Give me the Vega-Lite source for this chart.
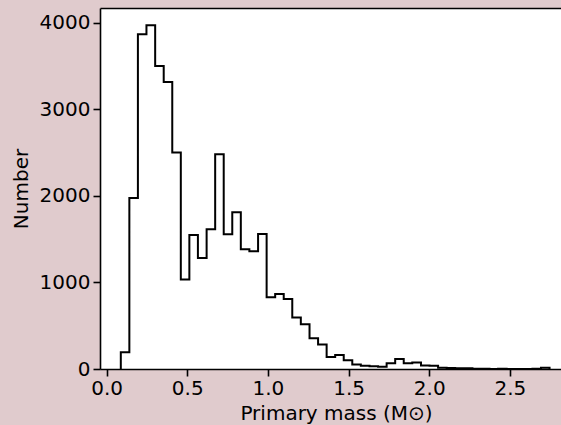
{
  "$schema": "https://vega.github.io/schema/vega-lite/v6.json",
  "autosize": {"type": "none"},
  "width": 461,
  "height": 361,
  "padding": {"left": 100, "top": 8, "right": 0, "bottom": 56},
  "background": "#e0cbcd",
  "config": {
    "view": {"fill": "white", "stroke": null},
    "font": "DejaVu Sans",
    "axis": {
      "grid": false,
      "labelFont": "DejaVu Sans",
      "titleFont": "DejaVu Sans",
      "labelFontSize": 20,
      "titleFontSize": 20,
      "titleFontWeight": "normal",
      "labelColor": "black",
      "titleColor": "black",
      "domainColor": "black",
      "domainWidth": 1.6,
      "tickColor": "black",
      "tickWidth": 1.6,
      "tickSize": 7
    }
  },
  "data": {
    "values": [
      {"m": 0.088, "n": 0, "k": 0},
      {"m": 0.088, "n": 193, "k": 1},
      {"m": 0.141, "n": 1977, "k": 2},
      {"m": 0.194, "n": 3869, "k": 3},
      {"m": 0.247, "n": 3973, "k": 4},
      {"m": 0.301, "n": 3503, "k": 5},
      {"m": 0.354, "n": 3318, "k": 6},
      {"m": 0.407, "n": 2501, "k": 7},
      {"m": 0.460, "n": 1033, "k": 8},
      {"m": 0.513, "n": 1549, "k": 9},
      {"m": 0.566, "n": 1283, "k": 10},
      {"m": 0.620, "n": 1615, "k": 11},
      {"m": 0.673, "n": 2482, "k": 12},
      {"m": 0.726, "n": 1557, "k": 13},
      {"m": 0.779, "n": 1812, "k": 14},
      {"m": 0.832, "n": 1384, "k": 15},
      {"m": 0.885, "n": 1361, "k": 16},
      {"m": 0.939, "n": 1561, "k": 17},
      {"m": 0.992, "n": 829, "k": 18},
      {"m": 1.045, "n": 867, "k": 19},
      {"m": 1.098, "n": 809, "k": 20},
      {"m": 1.151, "n": 594, "k": 21},
      {"m": 1.204, "n": 517, "k": 22},
      {"m": 1.258, "n": 355, "k": 23},
      {"m": 1.311, "n": 282, "k": 24},
      {"m": 1.364, "n": 139, "k": 25},
      {"m": 1.417, "n": 162, "k": 26},
      {"m": 1.470, "n": 101, "k": 27},
      {"m": 1.523, "n": 51, "k": 28},
      {"m": 1.576, "n": 37, "k": 29},
      {"m": 1.630, "n": 33, "k": 30},
      {"m": 1.683, "n": 27, "k": 31},
      {"m": 1.736, "n": 66, "k": 32},
      {"m": 1.789, "n": 116, "k": 33},
      {"m": 1.842, "n": 66, "k": 34},
      {"m": 1.895, "n": 74, "k": 35},
      {"m": 1.949, "n": 40, "k": 36},
      {"m": 2.002, "n": 38, "k": 37},
      {"m": 2.055, "n": 15, "k": 38},
      {"m": 2.108, "n": 12, "k": 39},
      {"m": 2.161, "n": 10, "k": 40},
      {"m": 2.214, "n": 8, "k": 41},
      {"m": 2.268, "n": 3, "k": 42},
      {"m": 2.321, "n": 2, "k": 43},
      {"m": 2.374, "n": 1, "k": 44},
      {"m": 2.427, "n": 2, "k": 45},
      {"m": 2.480, "n": 1, "k": 46},
      {"m": 2.533, "n": 0, "k": 47},
      {"m": 2.587, "n": 1, "k": 48},
      {"m": 2.640, "n": 2, "k": 49},
      {"m": 2.693, "n": 15, "k": 50},
      {"m": 2.746, "n": 0, "k": 51}
    ]
  },
  "layer": [
    {
      "mark": {"type": "line", "interpolate": "step-after", "color": "black", "strokeWidth": 2, "clip": true},
      "encoding": {
        "x": {
          "field": "m", "type": "quantitative",
          "scale": {"domain": [-0.041, 2.817], "nice": false, "zero": false},
          "axis": {"orient": "bottom", "values": [0, 0.5, 1, 1.5, 2, 2.5], "format": ".1f", "title": "Primary mass (M⊙)", "labelPadding": 2, "titlePadding": 5, "titleX": 236}
        },
        "y": {
          "field": "n", "type": "quantitative",
          "scale": {"domain": [0, 4172], "nice": false},
          "axis": {"values": [0, 1000, 2000, 3000, 4000], "format": "d", "title": "Number", "labelPadding": 3, "titlePadding": 8}
        },
        "order": {"field": "k", "type": "quantitative"}
      }
    },
    {
      "mark": {"type": "line", "interpolate": "step-after", "opacity": 0},
      "encoding": {
        "x": {
          "field": "m", "type": "quantitative",
          "axis": {"orient": "top", "labels": false, "ticks": false, "title": null, "domain": true}
        },
        "y": {
          "field": "n", "type": "quantitative",
          "axis": {"values": [0, 1000, 2000, 3000, 4000], "format": "d", "title": "Number", "labelPadding": 3, "titlePadding": 8}
        },
        "order": {"field": "k", "type": "quantitative"}
      }
    }
  ],
  "resolve": {"axis": {"x": "independent"}}
}
